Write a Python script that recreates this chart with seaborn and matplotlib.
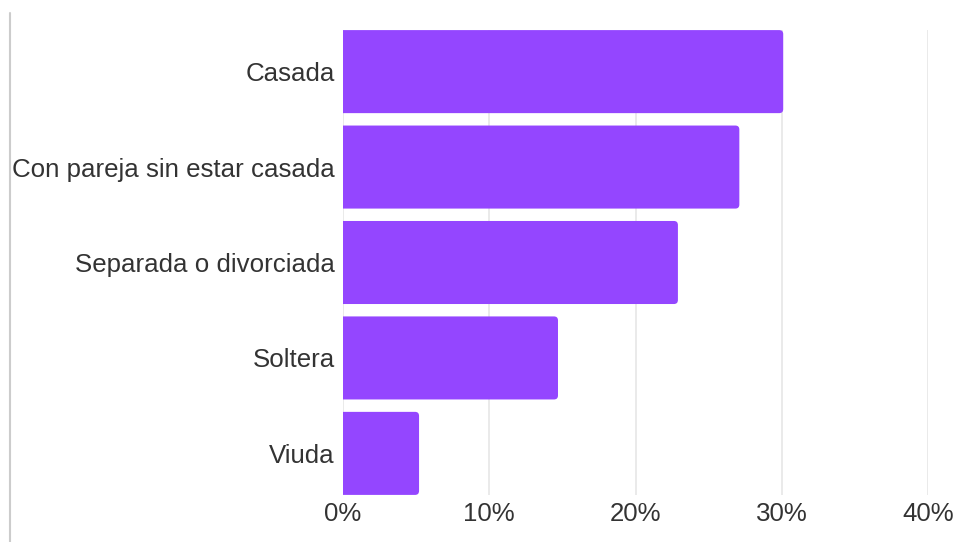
import pandas as pd
import seaborn as sns
import matplotlib.pyplot as plt
from matplotlib.patches import FancyBboxPatch
from matplotlib.lines import Line2D
from matplotlib.ticker import FuncFormatter

categories = ["Casada", "Con pareja sin estar casada", "Separada o divorciada", "Soltera", "Viuda"]
shares = [30.1, 27.1, 22.9, 14.7, 5.2]
x_ticks = [0, 10, 20, 30, 40]

BAR_COLOR = "#9446FF"
TEXT_COLOR = "#333333"
GRID_COLOR = "#e6e6e6"


def main():
    df = pd.DataFrame({"estado": categories, "pct": shares})

    sns.set_style("white")
    plt.rcParams["font.family"] = ["Liberation Sans", "DejaVu Sans"]

    fig = plt.figure(figsize=(9.58, 5.42), dpi=100)
    ax = fig.add_axes([343 / 958, 1 - 495 / 542, (928 - 343) / 958, (495 - 30) / 542])

    sns.barplot(data=df, x="pct", y="estado", color=BAR_COLOR, width=0.87,
                saturation=1, ax=ax, zorder=3)

    ax.set_xlim(0, 40)
    ax.set_ylim(4.436, -0.436)

    # swap the plain rectangles for rounded ones (same geometry)
    r_x, r_y = 0.27, 0.042
    for p in list(ax.patches):
        x0, y0, w, h = p.get_x(), p.get_y(), p.get_width(), p.get_height()
        rounded = FancyBboxPatch((x0 - r_x, y0), w + r_x, h,
                                 boxstyle=f"round,pad=0,rounding_size={r_x}",
                                 mutation_aspect=r_y / r_x,
                                 facecolor=BAR_COLOR, edgecolor="none", zorder=3)
        p.remove()
        ax.add_patch(rounded)

    ax.set_xticks(x_ticks)
    ax.xaxis.set_major_formatter(FuncFormatter(lambda v, _: f"{v:.0f}%"))
    ax.grid(axis="x", color=GRID_COLOR, linewidth=1.2, zorder=0)
    ax.grid(axis="y", visible=False)
    ax.set_axisbelow(True)
    sns.despine(ax=ax, left=True, bottom=True)
    ax.tick_params(axis="both", length=0, labelsize=18.6, labelcolor=TEXT_COLOR)
    ax.tick_params(axis="x", pad=5)
    ax.tick_params(axis="y", pad=6)
    ax.set_xlabel("")
    ax.set_ylabel("")

    fig.add_artist(Line2D([10 / 958, 10 / 958], [0, 1 - 13 / 542],
                          color="#cccccc", linewidth=1.5, transform=fig.transFigure))

    fig.savefig("out.png", dpi=100)
    plt.close(fig)


if __name__ == "__main__":
    main()
